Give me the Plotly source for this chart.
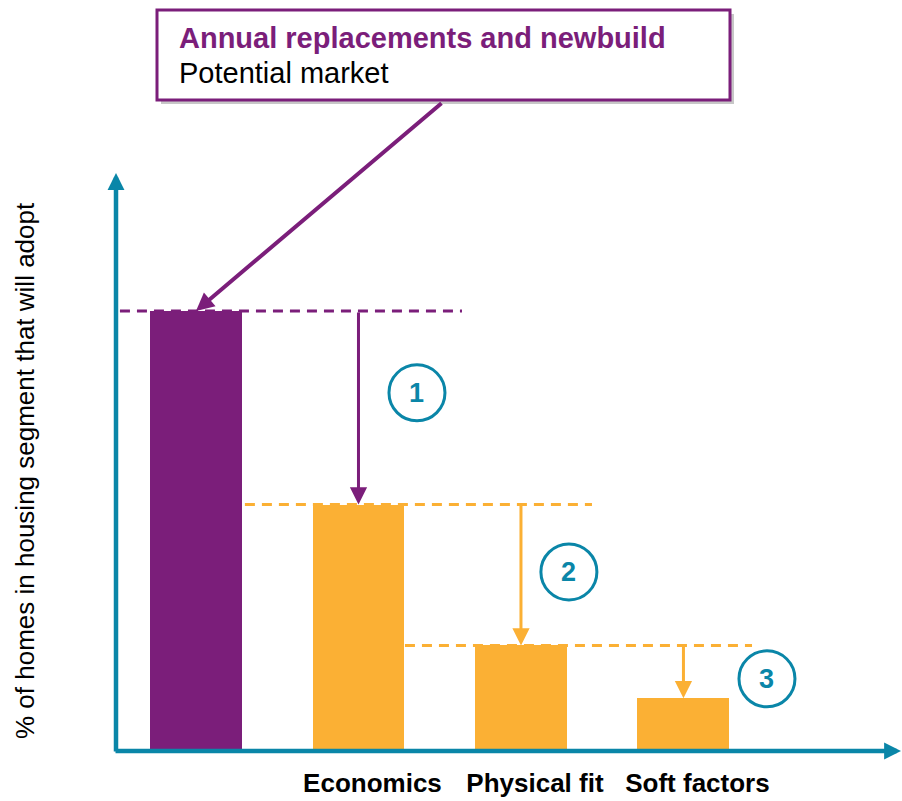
import plotly.graph_objects as go

# Adoption funnel data
stages = ["Annual replacements and newbuild", "Economics", "Physical fit", "Soft factors"]
tick_labels = ["", "Economics", "Physical fit", "Soft factors"]
adoption = [100, 56, 24, 12]
step_numbers = ["1", "2", "3"]

# Styling
PURPLE = "#7B1E7A"
ORANGE = "#FBB034"
TEAL = "#0A86A8"
FONT = "Liberation Sans, Arial, sans-serif"

bar_colors = [PURPLE] + [ORANGE] * (len(stages) - 1)
x_pos = list(range(len(stages)))

# Layout geometry (plot area in pixels: x 116..902, y 0..751)
X_RANGE = [-0.4923, 4.345]
Y_RANGE = [0, 170.68]

fig = go.Figure()
fig.add_trace(go.Bar(
    x=x_pos, y=adoption, width=0.566,
    marker=dict(color=bar_colors, line=dict(width=0)),
    hovertext=stages, showlegend=False,
))

shapes = []
annotations = []

# Dashed guide lines at each level: (start, end) in x units
guide_spans = [(-0.468, 1.637), (0.301, 2.437), (1.286, 3.422)]
guide_colors = [PURPLE, ORANGE, ORANGE]
for (gx0, gx1), val, col in zip(guide_spans, adoption[:-1], guide_colors):
    shapes.append(dict(type="line", xref="x", yref="y", x0=gx0, x1=gx1, y0=val, y1=val,
                       line=dict(color=col, width=3, dash="10px,7px")))

# Drop arrows from previous level to next bar
for i in range(1, len(adoption)):
    col = PURPLE if i == 1 else ORANGE
    annotations.append(dict(x=x_pos[i], y=adoption[i], xref="x", yref="y",
                            ax=x_pos[i], ay=adoption[i - 1], axref="x", ayref="y",
                            text="", showarrow=True, arrowhead=2, arrowsize=1.15,
                            arrowwidth=3, arrowcolor=col))

# Numbered step markers (centre positions in data units)
marker_pos = [(1.36, 81.4), (2.295, 40.7), (3.514, 16.4)]
for num, (mx, my) in zip(step_numbers, marker_pos):
    shapes.append(dict(type="circle", xref="x", yref="y", xsizemode="pixel", ysizemode="pixel",
                       xanchor=mx, yanchor=my, x0=-28, x1=28, y0=-28, y1=28,
                       line=dict(color=TEAL, width=3), fillcolor="white"))
    annotations.append(dict(x=mx, y=my, xref="x", yref="y", text=f"<b>{num}</b>",
                            showarrow=False, font=dict(family=FONT, size=27, color=TEAL),
                            xanchor="center", yanchor="middle"))

# Axes drawn as arrows
annotations.append(dict(x=0, y=(751 - 173) / 751, xref="paper", yref="paper",
                        ax=0, ay=580, text="", showarrow=True, arrowhead=2,
                        arrowsize=0.75, arrowwidth=4.5, arrowcolor=TEAL))
annotations.append(dict(x=1, y=0, xref="paper", yref="paper",
                        ax=-788, ay=0, text="", showarrow=True, arrowhead=2,
                        arrowsize=0.75, arrowwidth=4.5, arrowcolor=TEAL))

# Callout box
def px_x(p):
    return (p - 116) / 786

def px_y(p):
    return (751 - p) / 751

shapes.append(dict(type="rect", xref="paper", yref="paper", layer="above",
                   x0=px_x(161), x1=px_x(734), y0=px_y(104), y1=px_y(14),
                   line=dict(width=0), fillcolor="rgba(0,0,0,0.22)"))
shapes.append(dict(type="rect", xref="paper", yref="paper", layer="above",
                   x0=px_x(157), x1=px_x(730), y0=px_y(100), y1=px_y(10),
                   line=dict(color=PURPLE, width=3), fillcolor="white"))
annotations.append(dict(x=px_x(177), y=px_y(38), xref="paper", yref="paper",
                        text="<b>Annual replacements and newbuild</b>", showarrow=False,
                        xanchor="left", yanchor="middle",
                        font=dict(family=FONT, size=29, color=PURPLE)))
annotations.append(dict(x=px_x(177), y=px_y(73), xref="paper", yref="paper",
                        text="Potential market", showarrow=False,
                        xanchor="left", yanchor="middle",
                        font=dict(family=FONT, size=29, color="black")))

# Callout pointer to first bar
annotations.append(dict(x=x_pos[0], y=adoption[0], xref="x", yref="y",
                        ax=247, ay=-209, text="", showarrow=True, arrowhead=2,
                        arrowsize=0.9, arrowwidth=4, arrowcolor=PURPLE))

# Y axis title
annotations.append(dict(x=px_x(25), y=px_y(471), xref="paper", yref="paper",
                        text="% of homes in housing segment that will adopt",
                        showarrow=False, textangle=-90, xanchor="center", yanchor="middle",
                        font=dict(family=FONT, size=26, color="black")))

fig.update_layout(
    width=902, height=801,
    margin=dict(l=116, r=0, t=0, b=50, pad=0),
    paper_bgcolor="white", plot_bgcolor="white",
    shapes=shapes, annotations=annotations,
    xaxis=dict(range=X_RANGE, tickvals=x_pos, ticktext=tick_labels,
               showgrid=False, zeroline=False, showline=False, ticks="",
               tickfont=dict(family=FONT, size=26, color="black", weight="bold"),
               ticklabelshift=14, ticklabelstandoff=14),
    yaxis=dict(range=Y_RANGE, visible=False),
    bargap=0,
)

fig.write_html("out.html")
